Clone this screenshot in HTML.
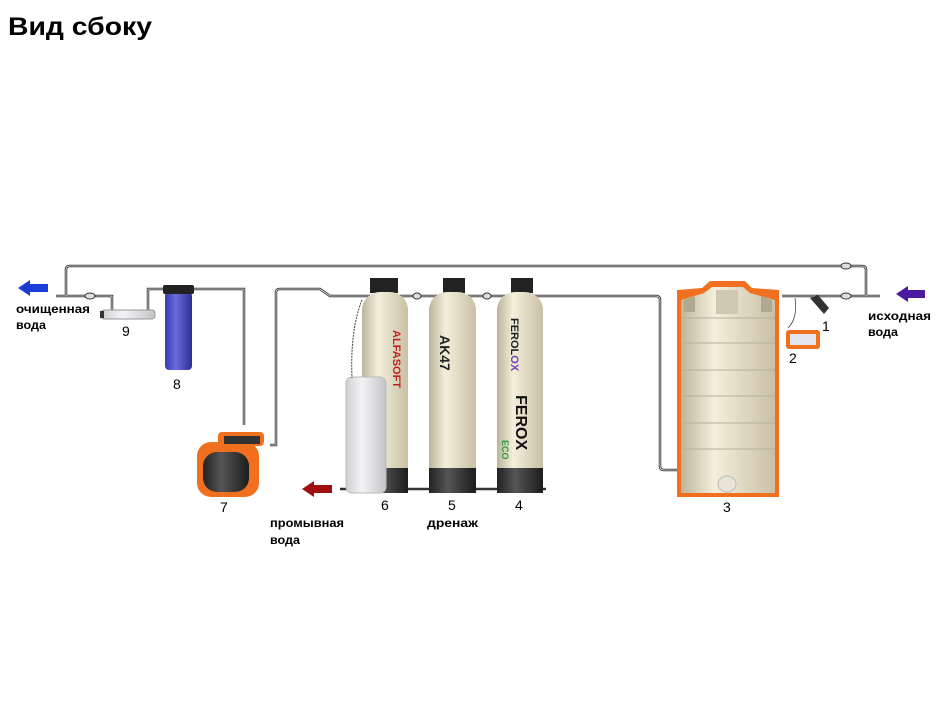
<!DOCTYPE html>
<html><head><meta charset="utf-8"><style>
html,body{margin:0;padding:0;background:#fff;width:952px;height:720px;overflow:hidden}
svg{display:block}
text{font-family:"Liberation Sans","DejaVu Sans",sans-serif}
</style></head><body>
<svg width="952" height="720" viewBox="0 0 952 720" xmlns="http://www.w3.org/2000/svg">
<defs>
<linearGradient id="beige" x1="0" x2="1"><stop offset="0" stop-color="#bdb49a"/><stop offset="0.35" stop-color="#f4efdc"/><stop offset="1" stop-color="#c9c0a4"/></linearGradient>
<linearGradient id="blue" x1="0" x2="1"><stop offset="0" stop-color="#3b3bb0"/><stop offset="0.4" stop-color="#6a6ae0"/><stop offset="1" stop-color="#2e2e90"/></linearGradient>
<linearGradient id="gray" x1="0" x2="1"><stop offset="0" stop-color="#cfcfd4"/><stop offset="0.4" stop-color="#f4f4f6"/><stop offset="1" stop-color="#c4c4c8"/></linearGradient>
<linearGradient id="dark" x1="0" x2="1"><stop offset="0" stop-color="#222"/><stop offset="0.4" stop-color="#555"/><stop offset="1" stop-color="#1c1c1c"/></linearGradient>
</defs>
<text x="8" y="35" font-size="25" font-weight="bold" fill="#000" textLength="144" lengthAdjust="spacingAndGlyphs">Вид сбоку</text>
<g fill="none" stroke="#333" stroke-width="2.5">
<path d="M66 296 V270 Q66 266 70 266 H862 Q866 266 866 270 V296"/>
<path d="M56 296 H112 V310"/>
<path d="M148 310 V289 H244 V425"/>
<path d="M270 445 H276 V292 Q276 289 280 289 H320 L330 296 H656 Q660 296 660 300 V466 Q660 470 664 470 H677"/>
<path d="M782 296 H880"/>
<path d="M340 489 H546"/>
</g>
<g fill="none" stroke="#eee" stroke-width="0.8">
<path d="M66 296 V270 Q66 266 70 266 H862 Q866 266 866 270 V296"/>
<path d="M56 296 H112 V310"/>
<path d="M148 310 V289 H244 V425"/>
<path d="M270 445 H276 V292 Q276 289 280 289 H320 L330 296 H656 Q660 296 660 300 V466 Q660 470 664 470 H677"/>
<path d="M782 296 H880"/>
</g>
<g fill="#ddd" stroke="#333" stroke-width="1">
<ellipse cx="90" cy="296" rx="5" ry="3"/><ellipse cx="846" cy="266" rx="5" ry="3"/><ellipse cx="846" cy="296" rx="5" ry="3"/>
<ellipse cx="417" cy="296" rx="4" ry="3"/><ellipse cx="487" cy="296" rx="4" ry="3"/>
</g>
<!-- arrows -->
<polygon points="18,288 30,280 30,284 48,284 48,292 30,292 30,296" fill="#1a3fd8"/>
<polygon points="302,489 314,481 314,485 332,485 332,493 314,493 314,497" fill="#a01010"/>
<polygon points="896,294 908,286 908,290 925,290 925,298 908,298 908,302" fill="#4a1aa0"/>
<!-- filter 9 -->
<rect x="101" y="310" width="54" height="9" rx="3" fill="url(#gray)" stroke="#999"/>
<rect x="100" y="311" width="4" height="7" fill="#333"/>
<!-- filter 8 -->
<rect x="165" y="292" width="27" height="78" rx="4" fill="url(#blue)"/>
<rect x="163" y="285" width="31" height="9" rx="2" fill="#222"/>
<!-- pump 7 -->
<rect x="197" y="442" width="62" height="55" rx="14" fill="#f07020"/>
<rect x="203" y="452" width="46" height="40" rx="14" fill="url(#dark)"/>
<rect x="218" y="432" width="46" height="14" rx="4" fill="#f07020"/>
<rect x="224" y="436" width="36" height="8" fill="#333"/>
<!-- tank 6 -->
<rect x="370" y="278" width="28" height="15" fill="#222"/>
<rect x="362" y="292" width="46" height="200" rx="18" fill="url(#beige)"/>
<rect x="362" y="468" width="46" height="25" fill="url(#dark)"/>
<text transform="translate(393,330) rotate(90)" font-size="11" font-weight="bold" fill="#c02020">ALFASOFT</text>
<rect x="346" y="377" width="40" height="116" rx="6" fill="url(#gray)" stroke="#bbb"/>
<path d="M362 300 Q350 330 352 378" fill="none" stroke="#444" stroke-dasharray="2 1"/>
<!-- tank 5 -->
<rect x="443" y="278" width="22" height="15" fill="#222"/>
<rect x="429" y="292" width="47" height="200" rx="18" fill="url(#beige)"/>
<rect x="429" y="468" width="47" height="25" fill="url(#dark)"/>
<text transform="translate(440,335) rotate(90)" font-size="14" font-weight="bold" fill="#222">AK47</text>
<!-- tank 4 -->
<rect x="511" y="278" width="22" height="15" fill="#222"/>
<rect x="497" y="292" width="46" height="200" rx="18" fill="url(#beige)"/>
<rect x="497" y="468" width="46" height="25" fill="url(#dark)"/>
<text transform="translate(511,318) rotate(90)" font-size="11" font-weight="bold" fill="#222">FEROL<tspan fill="#7040c0">OX</tspan></text>
<text transform="translate(516,395) rotate(90)" font-size="16" font-weight="bold" fill="#111">FEROX</text>
<text transform="translate(502,440) rotate(90)" font-size="9" font-weight="bold" fill="#2a9a3a">ECO</text>
<!-- tank 3 -->
<path d="M677 290 L702 288 L710 281 H745 L752 288 L779 290 V497 H677 Z" fill="#f07020"/>
<path d="M681 300 L704 293 L712 287 H743 L750 293 L775 300 V493 H681 Z" fill="url(#beige)"/>
<g fill="#b0a890"><polygon points="684,300 695,296 695,312 684,312"/><polygon points="761,296 772,300 772,312 761,312"/><rect x="716" y="290" width="22" height="24" fill="#d0c8b0"/></g>
<g stroke="#b8b09a" stroke-width="1">
<line x1="681" y1="318" x2="775" y2="318"/><line x1="681" y1="343" x2="775" y2="343"/>
<line x1="681" y1="370" x2="775" y2="370"/><line x1="681" y1="396" x2="775" y2="396"/>
<line x1="681" y1="423" x2="775" y2="423"/><line x1="681" y1="449" x2="775" y2="449"/>
</g>
<ellipse cx="727" cy="484" rx="9" ry="8" fill="#e8e4d8" stroke="#bbb"/>
<!-- valve 1 -->
<polygon points="810,298 818,295 829,308 824,314" fill="#333"/>
<path d="M795 298 Q798 318 788 328" fill="none" stroke="#444" stroke-width="0.8"/>
<!-- item 2 -->
<rect x="786" y="330" width="34" height="19" rx="3" fill="#f07020"/>
<rect x="790" y="334" width="26" height="11" fill="#e4e6ee"/>
<g font-size="14" fill="#000">
<text x="122" y="336">9</text><text x="173" y="389">8</text><text x="220" y="512">7</text>
<text x="381" y="510">6</text><text x="448" y="510">5</text><text x="515" y="510">4</text>
<text x="723" y="512">3</text><text x="822" y="331">1</text><text x="789" y="363">2</text>
</g>
<g font-size="11.5" font-weight="bold" fill="#000">
<text x="16" y="313" textLength="74" lengthAdjust="spacingAndGlyphs">очищенная</text><text x="16" y="329" textLength="30" lengthAdjust="spacingAndGlyphs">вода</text>
<text x="270" y="527" textLength="74" lengthAdjust="spacingAndGlyphs">промывная</text><text x="270" y="544" textLength="30" lengthAdjust="spacingAndGlyphs">вода</text>
<text x="427" y="527" textLength="51" lengthAdjust="spacingAndGlyphs">дренаж</text>
<text x="868" y="320" textLength="63" lengthAdjust="spacingAndGlyphs">исходная</text><text x="868" y="336" textLength="30" lengthAdjust="spacingAndGlyphs">вода</text>
</g>
</svg>
</body></html>
